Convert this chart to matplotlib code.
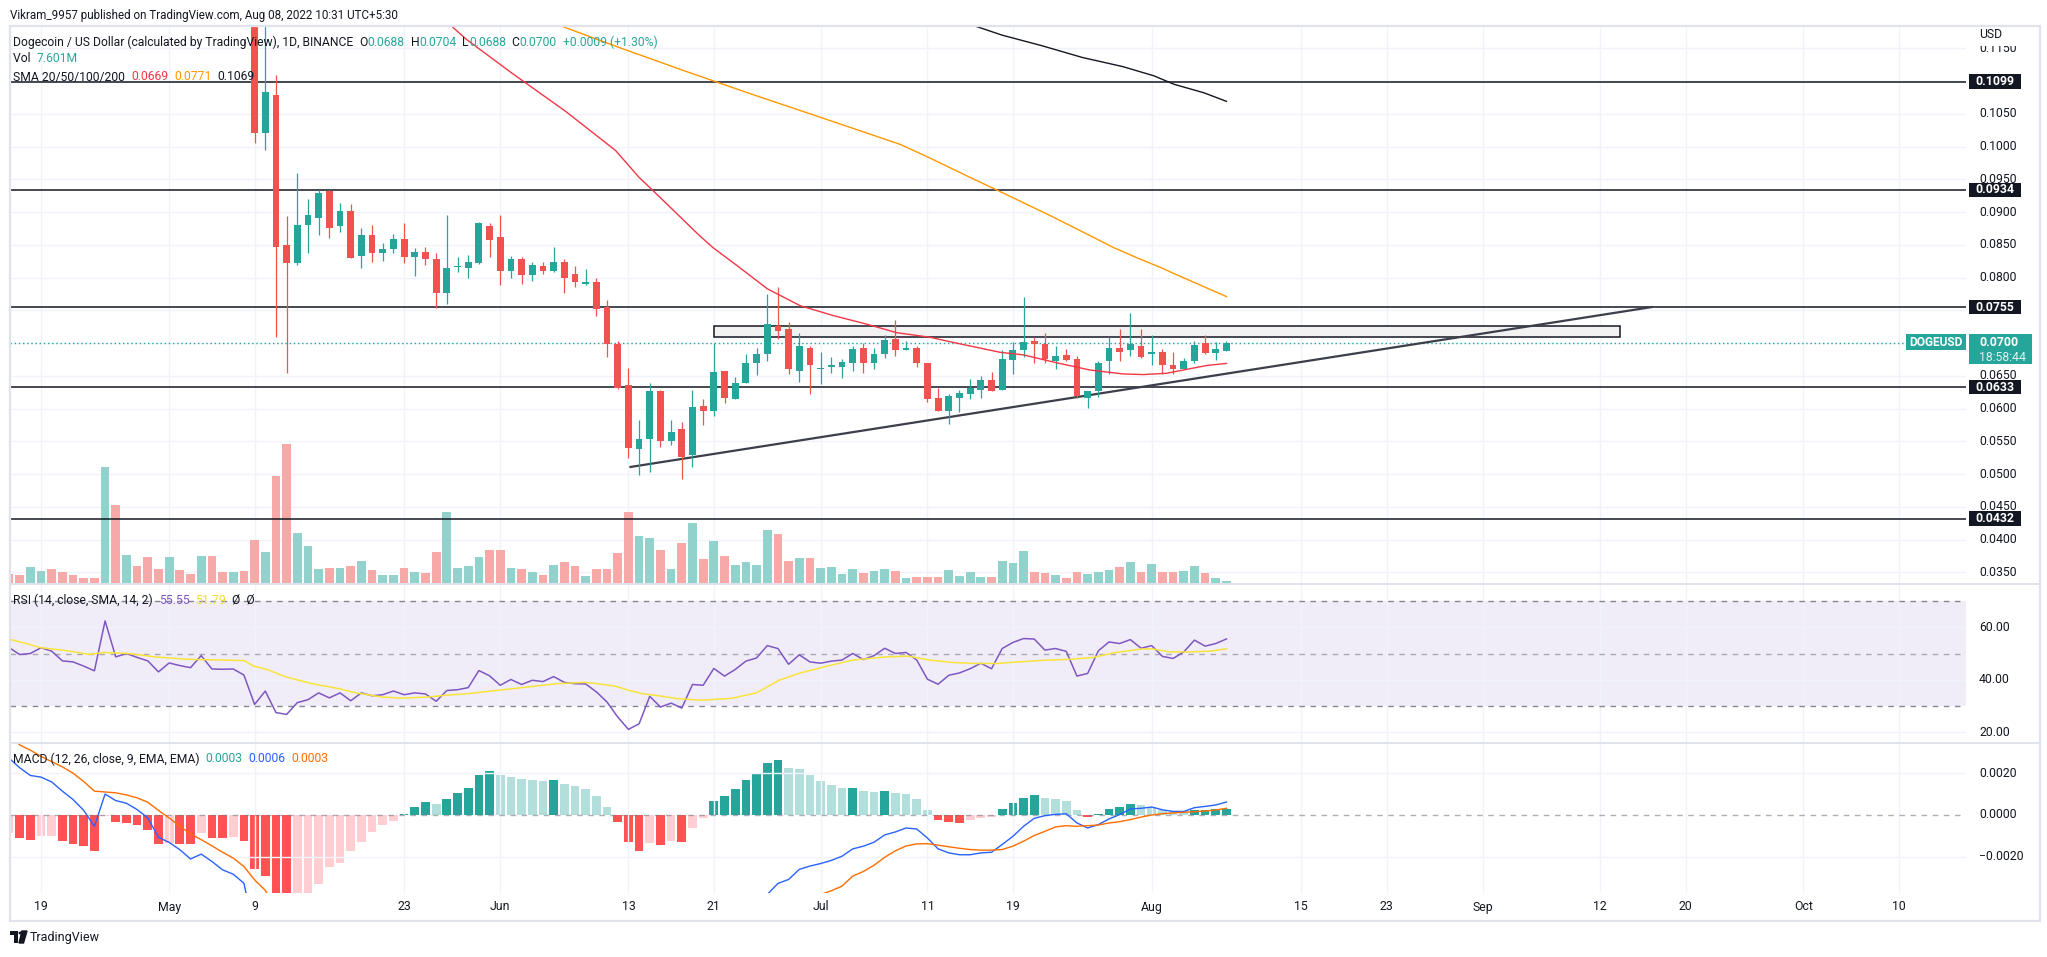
import matplotlib
matplotlib.use("Agg")
import matplotlib.pyplot as plt
from matplotlib.patches import Rectangle, Polygon, Circle
from matplotlib.transforms import Bbox, TransformedBbox
import numpy as np

plt.rcParams['font.family'] = ['Roboto', 'DejaVu Sans']

# ---------------- data (day 0 = 2022-04-19, first candle = Apr 16) ----------------
first_day = -3
opens = [0.1420, 0.1405, 0.1375, 0.1395, 0.1425, 0.1400, 0.1360, 0.1325, 0.1310, 0.1280,
         0.1590, 0.1390, 0.1420, 0.1380, 0.1320, 0.1250, 0.1310, 0.1295, 0.1275, 0.1355,
         0.1280, 0.1250, 0.1262,
         0.1205, 0.1020, 0.1079, 0.0850, 0.0822, 0.0880, 0.0891, 0.0932, 0.0879, 0.0902,
         0.0833, 0.0865, 0.0837, 0.0844, 0.0859, 0.0831, 0.0839, 0.0829, 0.0777, 0.0816,
         0.0815, 0.0823, 0.0878, 0.0862, 0.0810, 0.0828, 0.0804, 0.0817, 0.0810, 0.0824,
         0.0805, 0.0790, 0.0794, 0.0755, 0.0699, 0.0636, 0.0539, 0.0554, 0.0627, 0.0551,
         0.0569, 0.0529, 0.0604, 0.0596, 0.0658, 0.0615, 0.0639, 0.0669, 0.0684, 0.0726,
         0.0722, 0.0657, 0.0693, 0.0660, 0.0664, 0.0664, 0.0670, 0.0693, 0.0670, 0.0683,
         0.0707, 0.0689, 0.0693, 0.0670, 0.0616, 0.0597, 0.0617, 0.0623, 0.0629, 0.0644,
         0.0628, 0.0675, 0.0690, 0.0703, 0.0699, 0.0673, 0.0682, 0.0676, 0.0617, 0.0627,
         0.0672, 0.0693, 0.0689, 0.0695, 0.0683, 0.0687, 0.0667, 0.0661, 0.0672, 0.0700,
         0.0685, 0.0688]
highs = [0.1435, 0.1415, 0.1410, 0.1440, 0.1450, 0.1445, 0.1370, 0.1340, 0.1320, 0.1700,
         0.1620, 0.1440, 0.1450, 0.1390, 0.1340, 0.1320, 0.1330, 0.1310, 0.1370, 0.1365,
         0.1295, 0.1275, 0.1270,
         0.1215, 0.1195, 0.1109, 0.0894, 0.0960, 0.0920, 0.0933, 0.0934, 0.0914, 0.0913,
         0.0876, 0.0881, 0.0853, 0.0866, 0.0883, 0.0845, 0.0846, 0.0838, 0.0895, 0.0832,
         0.0834, 0.0885, 0.0884, 0.0895, 0.0833, 0.0831, 0.0824, 0.0824, 0.0847, 0.0828,
         0.0817, 0.0813, 0.0799, 0.0766, 0.0703, 0.0662, 0.0583, 0.0639, 0.0628, 0.0582,
         0.0579, 0.0628, 0.0615, 0.0700, 0.0658, 0.0648, 0.0684, 0.0693, 0.0775, 0.0786,
         0.0733, 0.0716, 0.0696, 0.0687, 0.0679, 0.0676, 0.0695, 0.0700, 0.0692, 0.0713,
         0.0736, 0.0703, 0.0696, 0.0670, 0.0632, 0.0623, 0.0628, 0.0645, 0.0650, 0.0656,
         0.0690, 0.0702, 0.0771, 0.0710, 0.0716, 0.0696, 0.0691, 0.0681, 0.0627, 0.0672,
         0.0710, 0.0722, 0.0746, 0.0722, 0.0713, 0.0691, 0.0687, 0.0677, 0.0703, 0.0713,
         0.0702, 0.0704]
lows = [0.1395, 0.1370, 0.1320, 0.1380, 0.1390, 0.1345, 0.1310, 0.1300, 0.1270, 0.1250,
        0.1370, 0.1330, 0.1360, 0.1310, 0.1240, 0.1235, 0.1270, 0.1265, 0.1265, 0.1260,
        0.1240, 0.1225, 0.1200,
        0.1005, 0.0994, 0.0710, 0.0655, 0.0819, 0.0838, 0.0865, 0.0860, 0.0869, 0.0830,
        0.0815, 0.0824, 0.0826, 0.0838, 0.0823, 0.0802, 0.0819, 0.0753, 0.0759, 0.0808,
        0.0799, 0.0821, 0.0831, 0.0788, 0.0799, 0.0791, 0.0795, 0.0805, 0.0808, 0.0777,
        0.0786, 0.0788, 0.0741, 0.0679, 0.0630, 0.0524, 0.0499, 0.0503, 0.0542, 0.0544,
        0.0492, 0.0511, 0.0575, 0.0589, 0.0609, 0.0615, 0.0639, 0.0651, 0.0672, 0.0707,
        0.0653, 0.0641, 0.0623, 0.0638, 0.0655, 0.0647, 0.0657, 0.0655, 0.0661, 0.0678,
        0.0681, 0.0689, 0.0663, 0.0610, 0.0597, 0.0577, 0.0595, 0.0615, 0.0617, 0.0627,
        0.0628, 0.0653, 0.0679, 0.0670, 0.0669, 0.0660, 0.0673, 0.0617, 0.0601, 0.0618,
        0.0653, 0.0672, 0.0681, 0.0678, 0.0667, 0.0653, 0.0653, 0.0660, 0.0670, 0.0684,
        0.0675, 0.0688]
closes = [0.1405, 0.1375, 0.1395, 0.1425, 0.1400, 0.1360, 0.1325, 0.1310, 0.1280, 0.1590,
          0.1390, 0.1420, 0.1380, 0.1320, 0.1250, 0.1310, 0.1295, 0.1275, 0.1355, 0.1280,
          0.1260, 0.1262, 0.1205,
          0.1020, 0.1083, 0.0847, 0.0822, 0.0880, 0.0895, 0.0929, 0.0876, 0.0902, 0.0830,
          0.0865, 0.0837, 0.0844, 0.0859, 0.0831, 0.0839, 0.0828, 0.0777, 0.0815, 0.0817,
          0.0824, 0.0883, 0.0858, 0.0810, 0.0828, 0.0804, 0.0819, 0.0810, 0.0824, 0.0800,
          0.0793, 0.0794, 0.0752, 0.0698, 0.0632, 0.0540, 0.0554, 0.0627, 0.0551, 0.0565,
          0.0526, 0.0602, 0.0596, 0.0656, 0.0617, 0.0639, 0.0670, 0.0684, 0.0729, 0.0718,
          0.0660, 0.0695, 0.0666, 0.0661, 0.0666, 0.0671, 0.0691, 0.0670, 0.0684, 0.0705,
          0.0689, 0.0693, 0.0670, 0.0615, 0.0597, 0.0619, 0.0624, 0.0632, 0.0644, 0.0627,
          0.0676, 0.0690, 0.0702, 0.0698, 0.0676, 0.0681, 0.0675, 0.0620, 0.0627, 0.0669,
          0.0693, 0.0687, 0.0699, 0.0679, 0.0687, 0.0666, 0.0661, 0.0673, 0.0697, 0.0685,
          0.0691, 0.0700]
volumes_m = [25, 22.5, 42.5, 32.5, 37.5, 30, 22.5, 15, 15, 292.5,
             197.5, 72.5, 45, 67.5, 37.5, 67.5, 35, 25, 70, 70,
             30, 30, 32.5,
             110, 79, 270, 350, 128, 95, 38, 41, 41, 44,
             57, 34, 22.5, 22.5, 41, 29, 27, 79, 180, 41,
             44, 66.5, 84.5, 84.5, 39.5, 37.5, 29, 22.5, 47, 54,
             44, 20, 37.5, 37.5, 77.5, 180, 120, 115, 85, 37.5,
             102.5, 152.5, 62.5, 107.5, 70, 47.5, 55, 47.5, 135, 125,
             57.5, 65, 65, 40, 42.5, 25, 37.5, 27.5, 32.5, 37.5,
             32.5, 15, 17.5, 17.5, 17.5, 35, 20, 30, 17.5, 17.5,
             57.5, 52.5, 82.5, 30, 27.5, 22.5, 15, 30, 25, 30,
             35, 42.5, 55, 30, 50, 30, 30, 32.5, 45, 27.5,
             15, 7.6]
rsi = [52.3, 49.6, 50.0, 52.2, 50.9, 47.2, 46.8, 45.2, 43.4, 62.4,
       48.7, 50.0, 48.5, 47.2, 43.0, 46.4, 45.4, 44.6, 49.2, 44.1,
       44.0, 44.1, 41.8,
       30.6, 35.7, 27.5, 26.8, 31.3, 32.4, 35.0, 33.1, 35.0, 32.0,
       35.0, 33.9, 34.3, 35.7, 34.3, 35.0, 34.6, 31.8, 35.9, 36.2,
       37.0, 43.5, 41.5, 37.9, 40.1, 38.2, 39.8, 39.3, 41.2, 39.0,
       38.5, 38.4, 35.4, 31.5, 25.8, 21.1, 23.2, 33.7, 29.6, 31.1,
       29.2, 38.2, 37.9, 44.3, 41.4, 43.9, 47.1, 48.3, 53.0, 51.9,
       45.9, 49.5, 46.8, 46.3, 47.1, 47.5, 50.0, 47.7, 49.2, 52.0,
       50.0, 50.4, 47.5, 40.2, 38.3, 41.7, 42.6, 44.2, 46.3, 44.2,
       51.9, 54.2, 55.7, 55.5, 51.3, 51.9, 50.8, 41.4, 42.4, 51.0,
       54.4, 53.8, 55.3, 52.0, 53.0, 48.9, 48.1, 50.6, 55.1, 52.8,
       53.8, 55.55]
rsi_ma_days = [-3, -1.4, 0, 2, 4.5, 5.9, 8.2, 10.7, 13.7, 17, 19, 19.9, 21.2, 22.9,
               25.4, 27.9, 29.5, 32, 33.7, 36.2, 37.9, 40, 42.1, 44.2, 46.3, 48.3,
               50.9, 52.1, 53.8, 55, 56.3, 58, 59.6, 61.8, 64.6, 67, 69.1, 71.1,
               73.6, 76, 79.1, 81.2, 83.2, 85.3, 87.4, 89.5, 91.5, 94.3, 96.4, 98.5,
               100.5, 103, 104, 105.7, 107.5, 109.5, 111]
rsi_ma_vals = [55.5, 53.8, 52.2, 51.3, 49.7, 50.4, 50.0, 48.7, 47.8, 47.5, 47.3, 45.2,
               43.9, 41.1, 38.5, 36.6, 35.0, 33.4, 33.0, 33.4, 34.1, 34.7, 35.7, 36.6,
               37.6, 38.5, 39.0, 38.5, 37.5, 36.0, 34.7, 33.8, 32.8, 32.2, 32.9, 35.0,
               39.8, 42.6, 45.2, 47.5, 48.7, 49.0, 47.5, 46.6, 46.2, 46.2, 46.8, 47.5,
               47.8, 48.5, 50.3, 51.7, 51.8, 50.6, 50.6, 50.9, 51.79]
macd_line = [0.00272, 0.00226, 0.00189, 0.00181, 0.00158, 0.00114, 0.00074, 0.00022, -0.00054, 0.00100,
             0.00069, 0.00056, 0.00026, -0.00014, -0.00107, -0.00131, -0.00166, -0.00210, -0.00187, -0.00222,
             -0.00262, -0.00283, -0.00326,
             -0.0057, -0.0066, -0.0090, -0.0105, -0.0112, -0.0115, -0.0113, -0.0110, -0.0108, -0.0106,
             -0.0103, -0.0100, -0.0097, -0.0094, -0.0090, -0.0086, -0.0082, -0.0080, -0.0076, -0.0072,
             -0.0068, -0.0060, -0.0056, -0.0056, -0.0054, -0.0053, -0.0051, -0.0050, -0.0048, -0.0048,
             -0.0048, -0.0050, -0.0054, -0.0062, -0.0075, -0.0088, -0.0095, -0.0092, -0.0093, -0.0090,
             -0.0088, -0.0080, -0.0074, -0.0064, -0.0058, -0.0052, -0.0046, -0.0042, -0.0038,
             -0.00327, -0.00308, -0.00260, -0.00244, -0.00232, -0.00217, -0.00197, -0.00162, -0.00149, -0.00130,
             -0.00095, -0.00081, -0.00062, -0.00067, -0.00110, -0.00162, -0.00181, -0.00190, -0.00190, -0.00181,
             -0.00178, -0.00141, -0.00102, -0.00054, -0.00016, -0.00003, 0.00003, 0.00006, -0.00038, -0.00062,
             -0.00046, -0.00019, 0.00002, 0.00029, 0.00032, 0.00038, 0.00025, 0.00017, 0.00017, 0.00035,
             0.00041, 0.00048, 0.00062]
macd_signal = [0.0039, 0.00335, 0.0031, 0.0028, 0.00255, 0.0023, 0.0020, 0.0016, 0.00114, 0.0011,
               0.00106, 0.00096, 0.00082, 0.00061, 0.00022, -0.00014, -0.00054, -0.0009, -0.00118, -0.00147,
               -0.00178, -0.00206, -0.00246, -0.0031, -0.0036,
               -0.0045, -0.0055, -0.0064, -0.0072, -0.0079, -0.0085, -0.0089, -0.0092, -0.0094, -0.0095,
               -0.0095, -0.0095, -0.0094, -0.0093, -0.0092, -0.0090, -0.0088, -0.0086, -0.0083, -0.0080,
               -0.0077, -0.0074, -0.0071, -0.0068, -0.0066, -0.0064, -0.0062, -0.0061, -0.0060, -0.0060,
               -0.0060, -0.0061, -0.0063, -0.0066, -0.0069, -0.0071, -0.0073, -0.0075, -0.0076, -0.0076,
               -0.0075, -0.0073, -0.0070, -0.0067, -0.0064, -0.0060, -0.0056, -0.0052, -0.0048, -0.0045,
               -0.0041,
               -0.0038, -0.00362, -0.0034, -0.00292, -0.0027, -0.0024, -0.00202, -0.00171, -0.00148, -0.00138,
               -0.00137, -0.00144, -0.00152, -0.00159, -0.00165, -0.00168, -0.00168, -0.00165, -0.00149, -0.00125,
               -0.00098, -0.00078, -0.00057, -0.00051, -0.00054, -0.00051, -0.00048, -0.00038, -0.00032, -0.00022,
               -0.0001, 0.0, 0.00006, 0.0001, 0.00013, 0.00016, 0.00019, 0.00024, 0.00032]
macd_hist = [-0.00087, -0.00112, -0.00118, -0.00102, -0.00099, -0.00123, -0.00138, -0.0015, -0.0017, -0.00006,
             -0.00035, -0.00036, -0.0005, -0.00074, -0.00138, -0.00134, -0.00137, -0.00139, -0.00086, -0.0011,
             -0.00112, -0.00107, -0.00123,
             -0.0026, -0.0029, -0.0045, -0.0052, -0.0048, -0.0042, -0.0033, -0.0025, -0.0023, -0.0017,
             -0.0013, -0.00083, -0.0005, -0.0003, 0.00006, 0.00038, 0.00062, 0.00054, 0.00078, 0.00107,
             0.00131, 0.00189, 0.00208, 0.00189, 0.00182, 0.0017, 0.00166, 0.00162, 0.00165, 0.0015,
             0.00138, 0.00125, 0.00093, 0.0004, -0.00035, -0.0013, -0.0017, -0.00134, -0.00142, -0.00126,
             -0.00128, -0.00064, -0.00016, 0.00065, 0.00092, 0.00125, 0.00168, 0.00202, 0.00249, 0.00263,
             0.00225, 0.00221, 0.00192, 0.00163, 0.00144, 0.0013, 0.00131, 0.00116, 0.00111, 0.00116,
             0.00106, 0.001, 0.00078, 0.00025, -0.00022, -0.00032, -0.00037, -0.00025, -0.00013, -0.00008,
             0.0003, 0.00059, 0.00083, 0.00097, 0.00083, 0.00078, 0.00065, 0.00022, -0.00008, 0.00006,
             0.0003, 0.0004, 0.00054, 0.00049, 0.0004, 0.00025, 0.00019, 0.00018, 0.00025, 0.00026,
             0.00027, 0.0003]
sma20_days = [37, 39.8, 44.1, 49.1, 53.8, 56, 58.5, 61.6, 62.9, 65.2, 68, 71.1, 74.2, 77.3,
              80.1, 83.2, 86.3, 89.8, 92, 95.1, 98.2, 101.3, 103.2, 105.4, 107.6, 109.2, 111]
sma20_vals = [0.1205, 0.1164, 0.1112, 0.1054, 0.0994, 0.0953, 0.0914, 0.0865, 0.0846, 0.0818,
              0.0783, 0.0757, 0.0742, 0.0729, 0.0716, 0.0709, 0.0698, 0.0686, 0.0682, 0.0670,
              0.0659, 0.0653, 0.0652, 0.0654, 0.0661, 0.0666, 0.0669]
sma50_days = [46, 48.7, 54, 60, 66, 72, 76, 80.5, 83.3, 86.6, 91, 94.7, 97.5, 100.4,
              102.8, 104.9, 106.1, 108.9, 111]
sma50_vals = [0.1200, 0.1184, 0.1152, 0.1117, 0.1083, 0.1050, 0.1028, 0.1003, 0.0982, 0.0956,
              0.0922, 0.0893, 0.0870, 0.0846, 0.0829, 0.0815, 0.0806, 0.0786, 0.0771]
sma100_days = [86, 90, 93.7, 97.5, 101.3, 104.2, 106.1, 108.9, 111]
sma100_vals = [0.1192, 0.1170, 0.1154, 0.1136, 0.1122, 0.1108, 0.1095, 0.1082, 0.1069]
levels = [0.1099, 0.0934, 0.0755, 0.0633, 0.0432]
trend_days = [55.2, 150.8]
trend_vals = [0.0511, 0.0755]
box_days = [63.0, 147.8]
box_vals = [0.0709, 0.07255]
last_price = 0.0700
xtick_days = [0, 12, 20, 34, 43, 55, 63, 73, 83, 91, 104, 118, 126, 135, 146, 154, 165, 174]
xtick_labels = ['19', 'May', '9', '23', 'Jun', '13', '21', 'Jul', '11', '19', 'Aug', '15',
                '23', 'Sep', '12', '20', 'Oct', '10']
price_ticks = [round(0.035 + 0.005 * i, 4) for i in range(17)]
rsi_ticks = [60, 40, 20]
macd_ticks = [0.002, 0.0, -0.002]

# ---------------- layout ----------------
W, H = 2047, 957
fig = plt.figure(figsize=(W / 100, H / 100), dpi=100)
fig.patch.set_facecolor('white')
PX0, PX1 = 10, 1966
XL = (-31 / 10.68, (1966 - 41) / 10.68)
P_TOP = 0.1099 + (81.7 - 26) / 6552
P_BOT = 0.1099 - (584 - 81.7) / 6552
GRID = '#f0f3fa'
TXT = '#131722'
TEAL = '#26a69a'
RED = '#ef5350'


def add_ax(y0, y1, z):
    a = fig.add_axes([PX0 / W, 1 - y1 / H, (PX1 - PX0) / W, (y1 - y0) / H], zorder=z)
    a.set_xlim(*XL)
    for s in a.spines.values():
        s.set_visible(False)
    a.set_xticks([])
    a.set_yticks([])
    a.patch.set_alpha(0)
    return a


def ypx(p):
    return 81.7 + (0.1099 - p) * 6552


def fx(x):
    return x / W


def fy(y):
    return 1 - y / H


days = np.arange(first_day, first_day + len(closes))
o = np.array(opens); h = np.array(highs); l = np.array(lows); c = np.array(closes)

# background grid for main panel
ax_bg = add_ax(26, 584, 1)
ax_bg.set_ylim(P_BOT, P_TOP)
for p in price_ticks:
    ax_bg.axhline(p, color=GRID, lw=1)
for d in xtick_days:
    ax_bg.axvline(d, color=GRID, lw=1)

# volume
ax_v = add_ax(26, 584, 2)
ax_v.set_ylim(0, 558 * 2.5)
up = c >= o
vcol = np.where(up, '#92d2cc', '#f7a9a7')
ax_v.bar(days, volumes_m, width=0.82, color=vcol, lw=0)

# candles & overlays
ax = add_ax(26, 584, 3)
ax.set_ylim(P_BOT, P_TOP)
ax.add_patch(Rectangle((box_days[0], box_vals[0]), box_days[1] - box_days[0],
                       box_vals[1] - box_vals[0], fc='#f2f2f2', ec=TXT, lw=1.1, zorder=1))
ax.axhline(last_price, color=TEAL, lw=1, ls=(0, (1, 2)), zorder=1.5)
for lv in levels:
    ax.axhline(lv, color=TXT, lw=1.1, zorder=2)
ax.plot(trend_days, trend_vals, color='#3c3f4a', lw=1.6, zorder=2)
ccol = np.where(up, TEAL, RED)
ax.vlines(days, l, h, colors=ccol, lw=0.9, zorder=3)
ax.bar(days, np.maximum(np.abs(c - o), 0.00016), bottom=np.minimum(o, c), width=0.64,
       color=ccol, lw=0, zorder=3)
ax.plot(sma20_days, sma20_vals, color='#f23645', lw=1.0, zorder=4)
ax.plot(sma50_days, sma50_vals, color='#ff9800', lw=1.0, zorder=4)
ax.plot(sma100_days, sma100_vals, color='#131722', lw=1.0, zorder=4)

# RSI
ax_r = add_ax(584, 743, 3)
R_TOP = 70 + 17 / 2.625
R_BOT = 30 - 37 / 2.625
ax_r.set_ylim(R_BOT, R_TOP)
ax_r.axhspan(30, 70, color='#7e57c2', alpha=0.1, lw=0)
for v in rsi_ticks:
    ax_r.axhline(v, color=GRID, lw=1)
for d in xtick_days:
    ax_r.axvline(d, color=GRID, lw=1)
for v in (70, 50, 30):
    ax_r.axhline(v, color='#787b86', lw=1, ls=(0, (4, 4)), alpha=0.9 if v != 50 else 0.6)
ax_r.plot(days, rsi, color='#7e57c2', lw=1.1)
ax_r.plot(rsi_ma_days, rsi_ma_vals, color='#f7e43a', lw=1.1)

# MACD
ax_m = add_ax(743, 893, 3)
M_TOP = 72 / 20925
M_BOT = -78 / 20925
ax_m.set_ylim(M_BOT, M_TOP)
for v in (0.002, -0.002):
    ax_m.axhline(v, color=GRID, lw=1)
for d in xtick_days:
    ax_m.axvline(d, color=GRID, lw=1)
ax_m.axhline(0, color='#787b86', lw=1, ls=(0, (4, 4)), alpha=0.6)
hist = np.array(macd_hist)
prev = np.concatenate([[hist[0] - 1e-5], hist[:-1]])
hcol = np.where(hist >= 0, np.where(hist > prev, '#26a69a', '#b2dfdb'),
                np.where(hist < prev, '#ff5252', '#ffcdd2'))
ax_m.bar(days, hist, width=0.82, color=hcol, lw=0)
ax_m.plot(days, macd_line, color='#2962ff', lw=1.0)
ax_m.plot(days, macd_signal, color='#ff6d00', lw=1.0)

# ---------------- frame & separators ----------------
fig.add_artist(Rectangle((fx(10), fy(921)), (2040 - 10) / W, (921 - 26) / H, fill=False,
                         ec='#e0e3eb', lw=1.6, transform=fig.transFigure, zorder=20))
for yy in (584, 743):
    fig.add_artist(plt.Line2D([fx(10), fx(2040)], [fy(yy), fy(yy)], color='#e0e3eb', lw=1.4,
                              transform=fig.transFigure, zorder=20))

# ---------------- price axis ----------------
AX_TX = 1979
for p in price_ticks:
    t = fig.text(fx(AX_TX), fy(ypx(p)), f"{p:.4f}", fontsize=8.8, color=TXT, va='center', ha='left')
    if ypx(p) < 60:
        # label partly hidden under the "USD" caption, as in the reference
        t.set_clip_box(TransformedBbox(Bbox([[fx(1966), fy(957)], [fx(2047), fy(45.5)]]),
                                       fig.transFigure))
        t.set_clip_on(True)
fig.text(fx(AX_TX), fy(34), "USD", fontsize=8.8, color=TXT, va='center', ha='left', zorder=21)
for v in rsi_ticks:
    fig.text(fx(AX_TX), fy(584 + (R_TOP - v) * 2.625), f"{v:.2f}", fontsize=8.8, color=TXT,
             va='center', ha='left')
for v in macd_ticks:
    s = f"{abs(v):.4f}"
    if v < 0:
        s = "\u2212" + s
    fig.text(fx(AX_TX), fy(743 + (M_TOP - v) * 20925), s, fontsize=8.8, color=TXT,
             va='center', ha='left')


def px_box(x0, y0, x1, y1, color, z=22):
    fig.add_artist(Rectangle((fx(x0), fy(y1)), (x1 - x0) / W, (y1 - y0) / H, fc=color, ec='none',
                             transform=fig.transFigure, zorder=z))


for lv in levels:
    yc = ypx(lv)
    px_box(1969, yc - 7.3, 2021, yc + 7.3, TXT)
    fig.text(fx(1995), fy(yc), f"{lv:.4f}", fontsize=8.8, color='white', fontweight='bold',
             va='center', ha='center', zorder=23)

yl = ypx(last_price)
px_box(1969, yl - 9, 2032, yl + 21, TEAL)
fig.text(fx(1979), fy(yl - 1), f"{last_price:.4f}", fontsize=8.8, color='white',
         fontweight='bold', va='center', ha='left', zorder=23)
fig.text(fx(1979), fy(yl + 14), "18:58:44", fontsize=8.8, color='#e0f2f1', va='center',
         ha='left', zorder=23)
px_box(1906, yl - 9, 1966, yl + 7, TEAL)
fig.text(fx(1936), fy(yl - 1), "DOGEUSD", fontsize=8.6, color='white', fontweight='bold',
         va='center', ha='center', zorder=23)

# ---------------- x axis labels ----------------
for d, lab in zip(xtick_days, xtick_labels):
    xx = PX0 + (d - XL[0]) / (XL[1] - XL[0]) * (PX1 - PX0)
    fig.text(fx(xx), fy(907), lab, fontsize=8.8, color=TXT, va='center', ha='center')

# ---------------- legends ----------------
renderer = fig.canvas.get_renderer()


def seq_text(x, y, pieces, size):
    for t, col in pieces:
        tx = fig.text(fx(x), fy(y), t, fontsize=size, color=col, va='center', ha='left', zorder=25)
        x += tx.get_window_extent(renderer=renderer).width


seq_text(10, 15, [("Vikram_9957 published on TradingView.com, Aug 08, 2022 10:31 UTC+5:30", TXT)], 8.4)
seq_text(13, 42, [("Dogecoin / US Dollar (calculated by TradingView), 1D, BINANCE  ", TXT),
                  ("O", TXT), ("0.0688", TEAL), ("  H", TXT), ("0.0704", TEAL), ("  L", TXT),
                  ("0.0688", TEAL), ("  C", TXT), ("0.0700", TEAL), ("  +0.0009 (+1.30%)", TEAL)], 8.7)
seq_text(13, 59, [("Vol  ", TXT), ("7.601M", TEAL)], 8.7)
seq_text(13, 77, [("SMA 20/50/100/200  ", TXT), ("0.0669", '#f23645'), ("  ", TXT),
                  ("0.0771", '#ff9800'), ("  ", TXT), ("0.1069", TXT)], 8.7)
seq_text(13, 600, [("RSI (14, close, SMA, 14, 2)  ", TXT), ("55.55", '#7e57c2'), ("  ", TXT),
                   ("51.79", '#f2de1f'), ("  \u00d8  \u00d8", TXT)], 8.7)
seq_text(13, 759, [("MACD (12, 26, close, 9, EMA, EMA)  ", TXT), ("0.0003", TEAL), ("  ", TXT),
                   ("0.0006", '#2962ff'), ("  ", TXT), ("0.0003", '#ff6d00')], 8.7)

# ---------------- footer logo ----------------
px_box(10, 931, 18, 934.5, TXT, z=25)
px_box(14, 931, 18, 943, TXT, z=25)
fig.add_artist(Circle((fx(21), fy(933)), 1.8 / W, color=TXT, transform=fig.transFigure, zorder=25))
fig.add_artist(Polygon([[fx(22), fy(931)], [fx(27), fy(931)], [fx(23.5), fy(943)], [fx(19), fy(943)]],
                       closed=True, color=TXT, transform=fig.transFigure, zorder=25))
fig.text(fx(30), fy(937.5), "TradingView", fontsize=9, color=TXT, va='center', ha='left')

fig.savefig("out.png", dpi=100, facecolor='white')
